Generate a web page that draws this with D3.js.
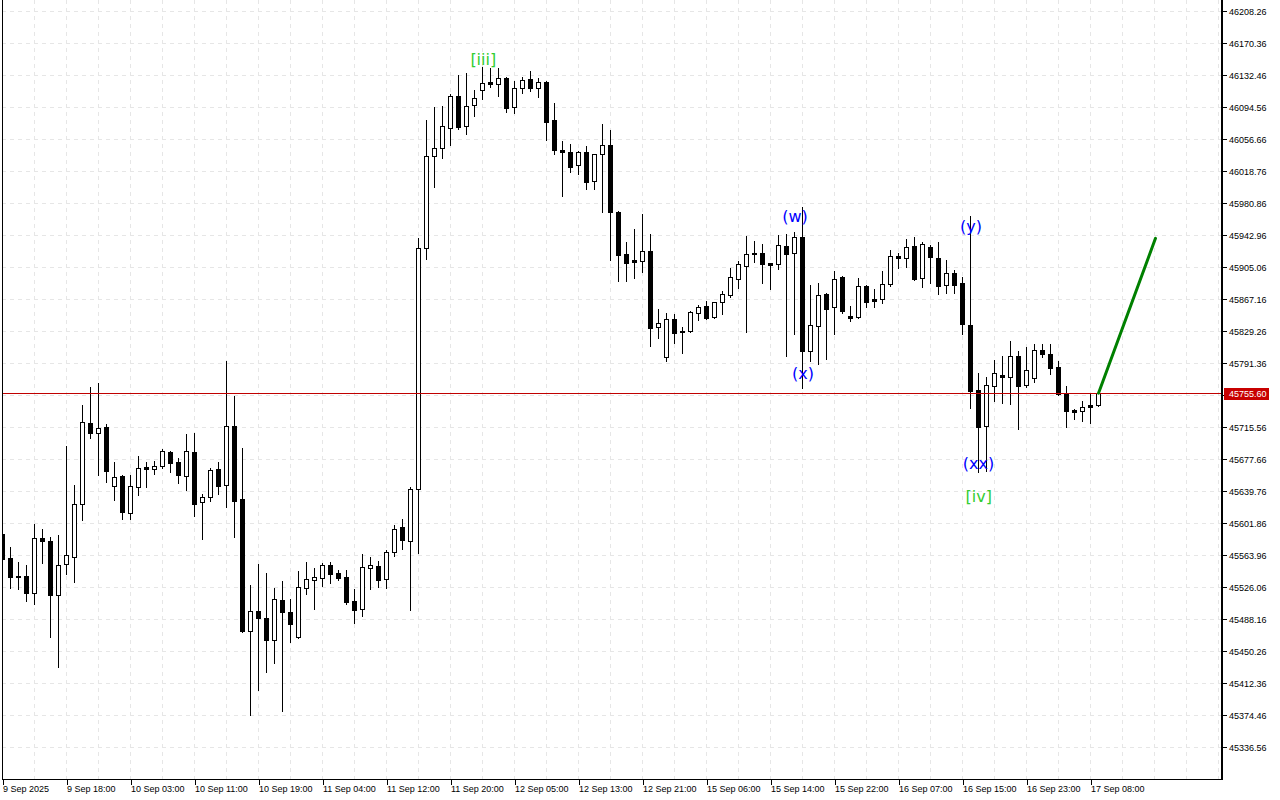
<!DOCTYPE html>
<html><head><meta charset="utf-8">
<script src="https://cdn.jsdelivr.net/npm/d3@7"></script>
<style>html,body{margin:0;padding:0;background:#fff;overflow:hidden}</style>
</head><body>
<svg id="c" width="1280" height="800"></svg>
<script>
// ---- data ----
const timeLabels = ["9 Sep 2025","9 Sep 18:00","10 Sep 03:00","10 Sep 11:00","10 Sep 19:00","11 Sep 04:00","11 Sep 12:00","11 Sep 20:00","12 Sep 05:00","12 Sep 13:00","12 Sep 21:00","15 Sep 06:00","15 Sep 14:00","15 Sep 22:00","16 Sep 07:00","16 Sep 15:00","16 Sep 23:00","17 Sep 08:00"];
const timeTickBars = [0,8,16,24,32,40,48,56,64,72,80,88,96,104,112,120,128,136];
const priceTicks = [46208.26,46170.36,46132.46,46094.56,46056.66,46018.76,45980.86,45942.96,45905.06,45867.16,45829.26,45791.36,45753.46,45715.56,45677.66,45639.76,45601.86,45563.96,45526.06,45488.16,45450.26,45412.36,45374.46,45336.56];

const open = [45589,45560,45539,45539,45519,45584,45581,45517,45553,45562,
45624,45720,45708,45716,45646,45658,45614,45644,45668,45666,
45669,45686,45674,45658,45686,45627,45633,45666,45647,45717,
45630,45474,45498,45489,45463,45511,45496,45467,45525,45534,
45537,45552,45543,45538,45509,45500,45549,45551,45536,45567,
45597,45581,45642,45928,46036,46046,46070,46107,46072,46097,
46115,46124,46122,46129,46095,46117,46128,46117,46124,46079,
46044,46041,46026,46041,46007,46039,46050,45970,45920,45913,
45912,45924,45834,45798,45843,45829,45829,45851,45859,45846,
45864,45872,45891,45906,45922,45922,45910,45909,45930,45922,
45941,45806,45835,45873,45858,45893,45847,45846,45883,45867,
45867,45885,45918,45916,45930,45892,45929,45916,45884,45898,
45886,45836,45759,45717,45764,45777,45775,45800,45765,45774,
45807,45802,45787,45755,45736,45734,45742,45742];
const high = [45594,45573,45556,45552,45601,45595,45585,45588,45693,45647,
45742,45763,45768,45719,45674,45659,45659,45681,45674,45675,
45690,45687,45679,45707,45708,45636,45667,45674,45794,45752,
45691,45528,45553,45543,45525,45533,45512,45545,45556,45549,
45554,45556,45546,45546,45524,45565,45562,45557,45570,45599,
45607,45644,45939,46079,46095,46096,46110,46132,46135,46115,
46142,46141,46141,46130,46125,46130,46137,46129,46125,46099,
46054,46051,46042,46048,46039,46074,46067,45971,45935,45950,
45968,45944,45855,45851,45849,45834,45853,45860,45865,45864,
45877,45904,45912,45942,45936,45932,45910,45943,45944,45947,
45976,45884,45886,45874,45900,45894,45859,45892,45884,45879,
45900,45925,45922,45938,45941,45935,45931,45935,45913,45902,
45893,45966,45780,45775,45795,45800,45817,45806,45810,45814,
45814,45814,45794,45764,45737,45746,45755,45756];
const low = [45534,45525,45524,45509,45506,45554,45467,45431,45541,45532,
45605,45703,45659,45650,45629,45607,45607,45635,45644,45660,
45667,45662,45649,45641,45610,45583,45628,45636,45621,45585,
45473,45374,45404,45425,45436,45379,45461,45466,45518,45500,
45527,45531,45534,45506,45483,45492,45524,45526,45525,45563,
45571,45499,45566,45915,46000,46034,46050,46068,46063,46084,
46104,46118,46108,46089,46087,46111,46113,46106,46055,46039,
45989,46018,46015,45998,45997,45970,45913,45888,45888,45892,
45899,45811,45821,45794,45815,45803,45828,45842,45843,45845,
45849,45870,45880,45828,45911,45886,45879,45903,45800,45826,
45762,45794,45790,45796,45826,45851,45841,45845,45858,45858,
45862,45883,45904,45905,45890,45881,45886,45873,45874,45874,
45826,45738,45662,45663,45746,45744,45743,45713,45763,45769,
45798,45778,45753,45716,45725,45723,45720,45741];
const close = [45559,45538,45538,45519,45584,45581,45517,45552,45564,45624,
45721,45708,45714,45663,45656,45615,45646,45667,45666,45669,
45687,45673,45659,45687,45624,45633,45665,45646,45717,45628,
45474,45498,45489,45463,45512,45496,45482,45526,45536,45538,
45552,45541,45537,45508,45499,45550,45552,45534,45567,45595,
45582,45642,45928,46036,46046,46072,46107,46071,46096,46105,
46123,46122,46129,46093,46117,46127,46117,46124,46077,46044,
46041,46024,46041,46006,46039,46050,45970,45919,45910,45911,
45924,45833,45839,45843,45827,45828,45852,45858,45845,45864,
45873,45893,45909,45920,45920,45909,45907,45931,45920,45941,
45806,45836,45872,45855,45891,45853,45845,45883,45864,45865,
45885,45918,45916,45929,45891,45932,45917,45883,45898,45884,
45838,45758,45716,45765,45780,45775,45800,45764,45783,45807,
45802,45785,45755,45735,45733,45739,45739,45755.60];

const currentPrice = 45755.60;

const waveTexts  = ["[iii]","(w)","(x)","(y)","(xx)","[iv]"];
const waveBars   = [60.1, 99.06, 100.06, 121.06, 122, 122.03];
const wavePrices = [46151.4, 45964.9, 45778.4, 45953.6, 45672.1, 45632.7];
const waveDegree = ["minor","minute","minute","minute","minute","minor"];

const projectionBars   = [137, 144.125];
const projectionPrices = [45755.60, 45939.0];

// ---- layout ----
const svg = d3.select("#c");
const plotL = 2, plotR = 1221, plotT = 0, plotB = 779;
const x = d3.scaleLinear().domain([0, 152.375]).range([2, 1221]);
const y = d3.scaleLinear().domain([45336.56, 46208.26]).range([747, 11]);
const FONT = "'Liberation Sans', Arial, sans-serif";

svg.append("rect").attr("width",1280).attr("height",800).attr("fill","#fff");

svg.append("defs").append("clipPath").attr("id","plotclip")
  .append("rect").attr("x",plotL).attr("y",plotT).attr("width",plotR-plotL).attr("height",plotB-plotT);

const plot = svg.append("g").attr("clip-path","url(#plotclip)");

// grid
const GRID = "#e6e6e6";
const vGrid = d3.range(4, 153, 4).filter(i => x(i) < plotR - 1);
plot.append("g").selectAll("line").data(vGrid).join("line")
  .attr("x1", d => Math.round(x(d)) + 0.5).attr("x2", d => Math.round(x(d)) + 0.5)
  .attr("y1", plotT).attr("y2", plotB)
  .attr("stroke", GRID).attr("stroke-dasharray", "4,4");
plot.append("g").selectAll("line").data(priceTicks).join("line")
  .attr("x1", plotL).attr("x2", plotR)
  .attr("y1", d => Math.round(y(d)) + 0.5).attr("y2", d => Math.round(y(d)) + 0.5)
  .attr("stroke", GRID).attr("stroke-dasharray", "4,4");

// candles
const bars = d3.range(open.length).map(i => ({i, o: open[i], h: high[i], l: low[i], c: close[i]}));
const cg = plot.append("g");
cg.selectAll("line.wick").data(bars).join("line").attr("class","wick")
  .attr("x1", d => Math.round(x(d.i)) + 0.5).attr("x2", d => Math.round(x(d.i)) + 0.5)
  .attr("y1", d => Math.round(y(d.h))).attr("y2", d => Math.round(y(d.l)) + 1)
  .attr("stroke", "#000").attr("stroke-width", 1);
cg.selectAll("rect.body").data(bars).join("rect").attr("class","body")
  .attr("x", d => Math.round(x(d.i)) - 1.5)
  .attr("width", 4)
  .attr("y", d => Math.round(y(Math.max(d.o, d.c))) + 0.5)
  .attr("height", d => Math.max(1, Math.round(y(Math.min(d.o, d.c))) - Math.round(y(Math.max(d.o, d.c)))))
  .attr("fill", d => d.c >= d.o ? "#fff" : "#000")
  .attr("stroke", "#000").attr("stroke-width", 1);

// current price line
plot.append("line")
  .attr("x1", plotL).attr("x2", plotR)
  .attr("y1", Math.round(y(currentPrice)) + 0.5).attr("y2", Math.round(y(currentPrice)) + 0.5)
  .attr("stroke", "#c00000").attr("stroke-width", 1);

// projection line
plot.append("path")
  .attr("d", d3.line()(projectionBars.map((b, k) => [x(b) + 0.5, y(projectionPrices[k])])))
  .attr("stroke", "#008000").attr("stroke-width", 3).attr("fill", "none").attr("stroke-linecap","round");

// wave labels
plot.append("g").selectAll("text").data(waveTexts).join("text")
  .attr("x", (d, k) => x(waveBars[k]) + 0.5)
  .attr("y", (d, k) => y(wavePrices[k]))
  .attr("text-anchor", "middle").attr("dominant-baseline", "central")
  .attr("font-family", "'DejaVu Sans', sans-serif").attr("font-size", 16)
  .attr("fill", (d, k) => waveDegree[k] === "minor" ? "#32cd32" : "#0000ff")
  .text(d => d);

// frame
svg.append("line").attr("x1", plotL + 0.5).attr("x2", plotL + 0.5).attr("y1", plotT).attr("y2", plotB + 1)
  .attr("stroke", "#000");
svg.append("line").attr("x1", plotL).attr("x2", plotR + 2).attr("y1", plotB + 0.5).attr("y2", plotB + 0.5)
  .attr("stroke", "#000");
svg.append("rect").attr("x", plotR).attr("y", 0).attr("width", 2).attr("height", plotB + 1).attr("fill", "#000");

// price axis
const curY = Math.round(y(currentPrice));
const pa = svg.append("g");
const shownTicks = priceTicks.filter(p => Math.abs(Math.round(y(p)) - curY) > 8);
pa.selectAll("line").data(priceTicks).join("line")
  .attr("x1", plotR + 2).attr("x2", plotR + 6)
  .attr("y1", d => Math.round(y(d)) + 0.5).attr("y2", d => Math.round(y(d)) + 0.5)
  .attr("stroke", "#000");
pa.selectAll("text").data(shownTicks).join("text")
  .attr("x", plotR + 8).attr("y", d => Math.round(y(d)) + 0.5)
  .attr("dominant-baseline", "central")
  .attr("font-family", FONT).attr("font-size", 9).attr("fill", "#000")
  .text(d => d.toFixed(2));

// current price tag
svg.append("rect").attr("x", plotR + 3).attr("y", curY - 5).attr("width", 45).attr("height", 12).attr("fill", "#c80000");
svg.append("text").attr("x", plotR + 8).attr("y", curY + 1)
  .attr("dominant-baseline", "central")
  .attr("font-family", FONT).attr("font-size", 9).attr("fill", "#fff")
  .text(currentPrice.toFixed(2));

// time axis
const ta = svg.append("g");
ta.selectAll("line").data(timeTickBars).join("line")
  .attr("x1", d => Math.round(x(d)) + 1.5).attr("x2", d => Math.round(x(d)) + 1.5)
  .attr("y1", plotB).attr("y2", plotB + 6)
  .attr("stroke", "#000");
ta.selectAll("text").data(timeLabels).join("text")
  .attr("x", (d, k) => Math.round(x(timeTickBars[k])) + 1)
  .attr("y", plotB + 10)
  .attr("dominant-baseline", "central")
  .attr("font-family", FONT).attr("font-size", 9).attr("fill", "#000")
  .text(d => d);
</script>
</body></html>
